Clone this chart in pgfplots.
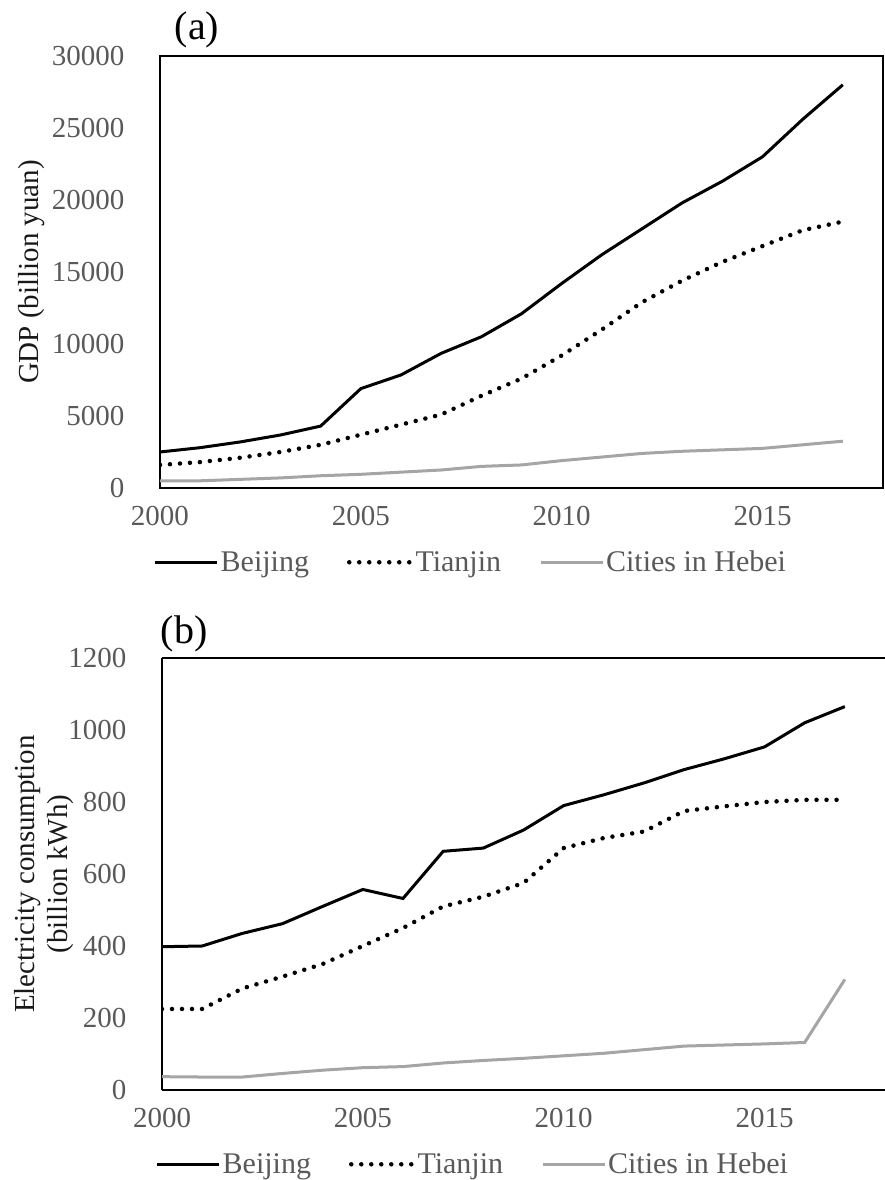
\documentclass[border=0pt]{standalone}
\usepackage{fontspec}
\setmainfont{Liberation Serif}
\usepackage{pgfplots}
\pgfplotsset{compat=1.18}
\definecolor{tickgray}{HTML}{595959}
\definecolor{hebei}{HTML}{A5A5A5}
\pgfplotstableread{
year bj tj hb
2000 2500 1600 500
2001 2800 1800 500
2002 3200 2100 600
2003 3680 2500 700
2004 4300 3000 850
2005 6900 3700 950
2006 7850 4400 1100
2007 9350 5100 1250
2008 10500 6400 1500
2009 12100 7600 1600
2010 14200 9200 1900
2011 16200 11000 2150
2012 18000 12900 2400
2013 19800 14400 2550
2014 21300 15700 2650
2015 23000 16800 2750
2016 25600 17900 3000
2017 28000 18500 3250
}\gdp
\pgfplotstableread{
year bj tj hb
2000 398 225 37
2001 400 225 36
2002 435 282 36
2003 462 315 46
2004 510 350 55
2005 557 400 62
2006 532 450 65
2007 663 510 75
2008 672 537 82
2009 722 575 88
2010 790 672 95
2011 820 700 102
2012 853 718 112
2013 890 775 122
2014 920 788 125
2015 953 800 128
2016 1020 806 132
2017 1065 806 307
}\elec
\pgfplotsset{
  common/.style={
    scale only axis, width=723pt, height=432pt,
    xmin=2000, xmax=2018,
    xtick={2000,2005,2010,2015},
    scaled y ticks=false,
    major tick length=0pt,
    tick label style={font=\fontsize{29}{32}\selectfont, text=tickgray},
    /pgf/number format/assume math mode=true,
    /pgf/number format/1000 sep={},
    xticklabel shift=15pt,
    yticklabel shift=32pt,
    label style={font=\fontsize{29}{33}\selectfont, text=black!90},
    legend columns=3,
    legend style={draw=none, fill=none, font=\fontsize{30}{32}\selectfont, text=tickgray,
      at={(0.43,-0.172)}, anchor=center,
      /tikz/every even column/.append style={column sep=36pt}},
    legend image code/.code={\draw[##1] (0pt,0pt) -- (62pt,0pt);},
  },
  bjs/.style={black, line width=3pt},
  tjs/.style={black, line width=4.5pt, line cap=round, dash pattern=on 0pt off 10pt},
  hbs/.style={hebei, line width=3pt},
}
\begin{document}
\begin{tikzpicture}
\path[use as bounding box] (0pt,0pt) rectangle (885pt,1180pt);
\begin{axis}[common, at={(160pt,692pt)}, anchor=south west,
  ymin=0, ymax=30000, ytick={0,5000,...,30000},
  axis line style={black, line width=2pt},
  ylabel={GDP (billion yuan)}]
\addplot[bjs] table[x=year,y=bj] {\gdp};
\addlegendentry{Beijing}
\addplot[tjs] table[x=year,y=tj] {\gdp};
\addlegendentry{Tianjin}
\addplot[hbs] table[x=year,y=hb] {\gdp};
\addlegendentry{Cities in Hebei}
\end{axis}
\node[font=\fontsize{40}{42}\selectfont] at (197pt,1150pt) {(a)};
\begin{axis}[common, at={(162pt,90pt)}, anchor=south west,
  axis x line*=bottom, axis y line*=left,
  axis line style={black, line width=2pt, -},
  ymin=0, ymax=1200, ytick={0,200,...,1200},
  ylabel style={align=center, yshift=-12pt},
  ylabel={Electricity consumption\\(billion kWh)},
  after end axis/.code={\draw[black, line width=2.5pt] (rel axis cs:0,1) -- (rel axis cs:1,1);}]
\addplot[bjs] table[x=year,y=bj] {\elec};
\addlegendentry{Beijing}
\addplot[tjs] table[x=year,y=tj] {\elec};
\addlegendentry{Tianjin}
\addplot[hbs] table[x=year,y=hb] {\elec};
\addlegendentry{Cities in Hebei}
\end{axis}
\node[font=\fontsize{40}{42}\selectfont] at (184pt,546pt) {(b)};
\end{tikzpicture}
\end{document}
